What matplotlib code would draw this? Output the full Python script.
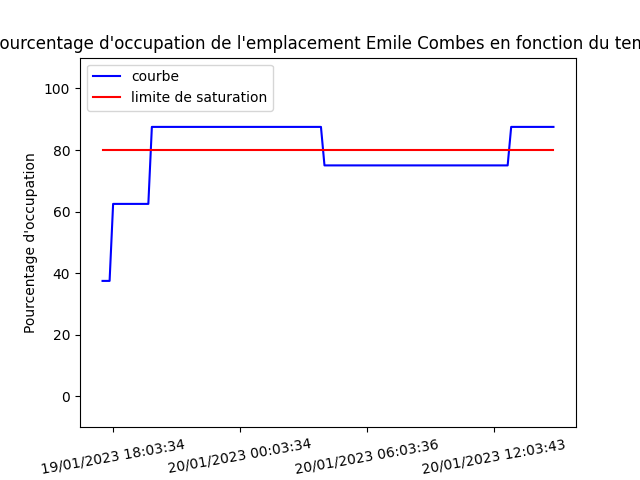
import matplotlib
matplotlib.use("Agg")
import matplotlib.pyplot as plt
import numpy as np

# occupancy levels (percent) and how many consecutive samples stay at each level
levels = [37.5, 62.5, 87.5, 75.0, 87.5]
run_lengths = [3, 11, 49, 53, 13]

tick_idx = [3, 39, 75, 111]
tick_labels = [
    "19/01/2023 18:03:34",
    "20/01/2023 00:03:34",
    "20/01/2023 06:03:36",
    "20/01/2023 12:03:43",
]
saturation = 80

occupation = np.repeat(levels, run_lengths)
x = np.arange(len(occupation))

fig, ax = plt.subplots(figsize=(6.4, 4.8), dpi=100)
ax.plot(x, occupation, color="blue", label="courbe")
ax.plot(x, [saturation] * len(x), color="red", label="limite de saturation")
ax.set_ylim(-10, 110)
ax.set_xticks(tick_idx)
ax.set_xticklabels(tick_labels, rotation=10)
ax.set_ylabel("Pourcentage d'occupation")
ax.set_title("Pourcentage d'occupation de l'emplacement Emile Combes en fonction du temps")
ax.legend(loc="upper left")

fig.savefig("out.png", dpi=100)
